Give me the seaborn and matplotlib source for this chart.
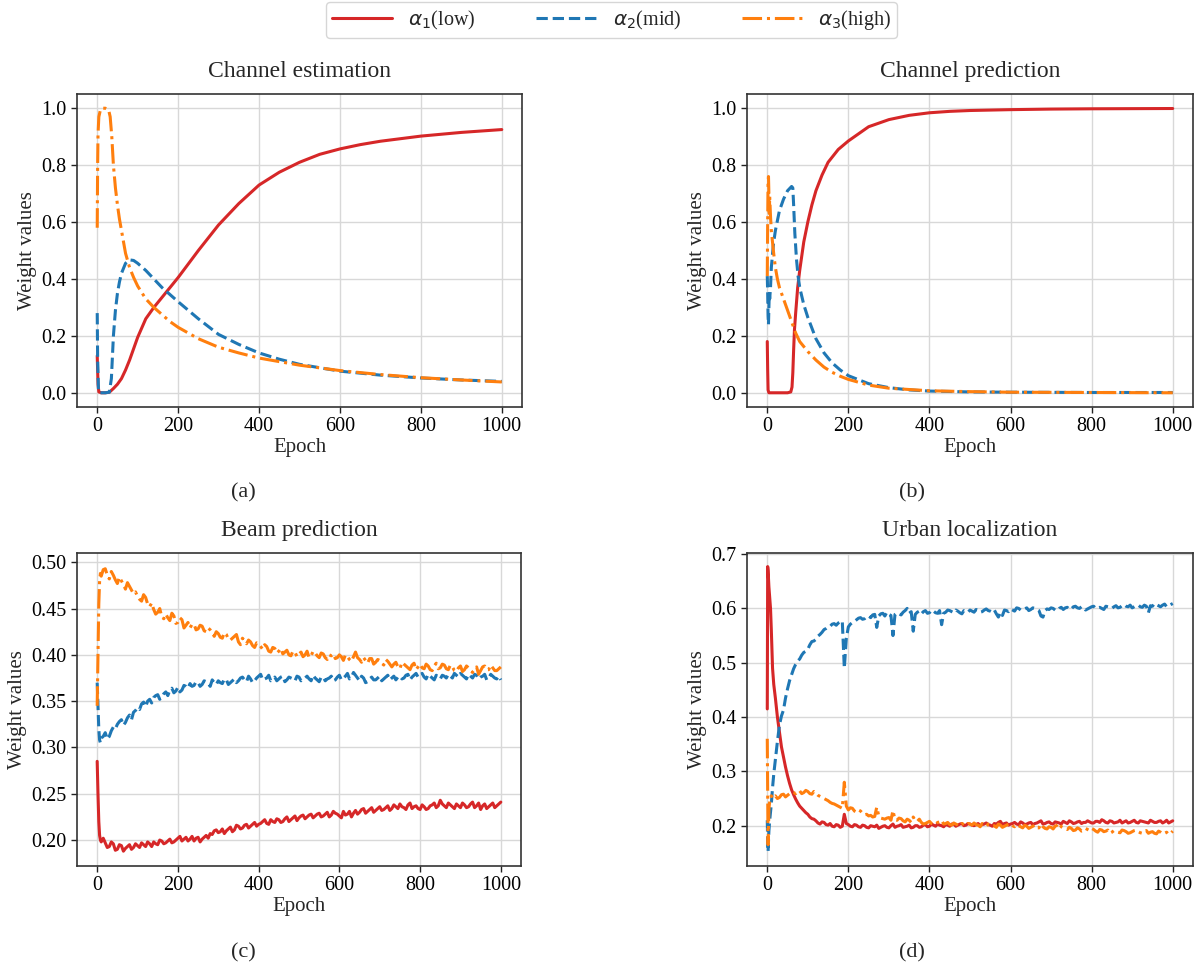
import numpy as np
import pandas as pd
import matplotlib
matplotlib.use("Agg")
import matplotlib.pyplot as plt
import seaborn as sns

# ---------------- data ----------------
labels = [r"$\alpha_1$(low)", r"$\alpha_2$(mid)", r"$\alpha_3$(high)"]
colors = ["#d62728", "#1f77b4", "#ff7f0e"]
styles = ["-", "--", "-."]
titles = ["Channel estimation", "Channel prediction", "Beam prediction", "Urban localization"]
captions = ["(a)", "(b)", "(c)", "(d)"]

# (a) Channel estimation
a_low_x = [0, 2, 4, 10, 20, 30, 40, 50, 60, 70, 80, 90, 100, 120, 140, 160, 180, 200, 250, 300,
           350, 400, 450, 500, 550, 600, 650, 700, 800, 900, 1000]
a_low_y = [0.13, 0.03, 0.003, 0.0, 0.0, 0.002, 0.015, 0.03, 0.05, 0.08, 0.115, 0.155, 0.195, 0.26,
           0.30, 0.335, 0.37, 0.405, 0.50, 0.59, 0.665, 0.73, 0.775, 0.81, 0.838, 0.857, 0.872,
           0.884, 0.902, 0.915, 0.925]
a_mid_x = [0, 1, 3, 5, 10, 20, 30, 35, 40, 45, 50, 55, 60, 70, 80, 90, 100, 120, 140, 160, 180,
           200, 250, 300, 350, 400, 450, 500, 600, 700, 800, 900, 1000]
a_mid_y = [0.28, 0.12, 0.01, 0.0, 0.0, 0.0, 0.002, 0.05, 0.2, 0.29, 0.35, 0.39, 0.42, 0.455, 0.467,
           0.465, 0.455, 0.43, 0.40, 0.37, 0.345, 0.32, 0.26, 0.205, 0.17, 0.14, 0.118, 0.10,
           0.076, 0.062, 0.052, 0.045, 0.04]
a_high_x = [0, 1, 2, 4, 8, 12, 20, 28, 32, 36, 40, 45, 50, 55, 60, 70, 80, 90, 100, 120, 140, 160,
            180, 200, 250, 300, 350, 400, 500, 600, 700, 800, 900, 1000]
a_high_y = [0.58, 0.8, 0.91, 0.97, 0.995, 1.0, 1.0, 0.995, 0.97, 0.9, 0.8, 0.72, 0.66, 0.61, 0.57,
            0.49, 0.44, 0.405, 0.375, 0.33, 0.30, 0.275, 0.25, 0.23, 0.19, 0.16, 0.14, 0.122,
            0.097, 0.078, 0.064, 0.053, 0.045, 0.038]

# (b) Channel prediction
b_low_x = [0, 1, 2, 4, 10, 30, 50, 58, 61, 63, 65, 67, 70, 75, 80, 90, 100, 110, 120, 135, 150,
           175, 200, 250, 300, 350, 400, 450, 500, 600, 700, 800, 1000]
b_low_y = [0.18, 0.08, 0.01, 0.0, 0.0, 0.0, 0.0, 0.003, 0.02, 0.07, 0.15, 0.22, 0.28, 0.37, 0.43,
           0.53, 0.60, 0.66, 0.71, 0.765, 0.81, 0.855, 0.885, 0.935, 0.96, 0.975, 0.984, 0.989,
           0.992, 0.995, 0.997, 0.998, 0.999]
b_mid_x = [0, 1, 2, 3, 4, 5, 6, 8, 10, 15, 20, 30, 40, 50, 60, 63, 65, 68, 72, 76, 80, 90, 100,
           120, 140, 160, 180, 200, 250, 300, 350, 400, 500, 600, 800, 1000]
b_mid_y = [0.41, 0.35, 0.27, 0.24, 0.30, 0.35, 0.33, 0.37, 0.44, 0.52, 0.57, 0.64, 0.68, 0.71,
           0.725, 0.72, 0.66, 0.56, 0.47, 0.41, 0.37, 0.31, 0.265, 0.19, 0.14, 0.105, 0.08, 0.06,
           0.032, 0.018, 0.01, 0.006, 0.003, 0.002, 0.001, 0.001]
b_high_x = [0, 1, 2, 3, 4, 5, 6, 8, 10, 15, 20, 25, 30, 40, 50, 60, 70, 80, 100, 120, 140, 160,
            180, 200, 250, 300, 400, 500, 600, 800, 1000]
b_high_y = [0.41, 0.60, 0.74, 0.76, 0.70, 0.63, 0.69, 0.62, 0.57, 0.50, 0.44, 0.40, 0.37, 0.33,
            0.29, 0.25, 0.21, 0.18, 0.145, 0.115, 0.09, 0.072, 0.058, 0.047, 0.027, 0.016, 0.007,
            0.004, 0.002, 0.001, 0.0]

# (c) Beam prediction : main readings (epochs c_x) + in-between readings (epochs c_xh)
c_x = [0, 2, 4, 6, 8, 10, 15] + list(range(20, 1001, 10))
c_xh = list(range(25, 1000, 10))
c_low_y = [0.285, 0.25, 0.22, 0.205, 0.200, 0.198, 0.202,
           .197, .193, .196, .190, .194, .191, .195, .192, .194, .197,
           .193, .196, .198, .195, .199, .197, .201, .198, .202, .199,
           .203, .201, .199, .203, .201, .205, .207, .210, .208, .212,
           .210, .214, .211, .215, .213, .217, .215, .219, .217, .220,
           .218, .222, .219, .222, .220, .225, .222, .226, .224, .227,
           .225, .228, .226, .229, .226, .230, .227, .229, .226, .231,
           .228, .225, .232, .230, .234, .231, .235, .232, .236, .233,
           .237, .234, .236, .239, .235, .238, .234, .237, .233, .236,
           .234, .238, .235, .243, .237, .240, .236, .239, .235, .238,
           .236, .241, .237, .233, .239, .236, .240, .237, .241]
c_low_yh = [.192, .198, .189, .195, .188, .193, .190, .196, .192, .195,
            .198, .193, .196, .200, .196, .199, .197, .200, .204, .201,
            .199, .204, .202, .198, .203, .202, .206, .211, .209, .207,
            .212, .209, .216, .212, .216, .213, .217, .215, .218, .222,
            .217, .220, .223, .219, .223, .220, .224, .221, .226, .223,
            .227, .224, .228, .225, .228, .225, .231, .228, .224, .227,
            .231, .229, .228, .233, .229, .233, .230, .234, .232, .235,
            .232, .238, .234, .236, .233, .240, .236, .234, .238, .233,
            .237, .240, .237, .239, .235, .238, .234, .237, .240, .235,
            .239, .235, .240, .237, .234, .238, .235, .239]
c_mid_y = [0.370, 0.345, 0.320, 0.308, 0.305, 0.310, 0.312,
           .316, .312, .322, .325, .330, .327, .335, .338, .343, .347,
           .344, .352, .354, .357, .354, .360, .362, .359, .365, .362,
           .366, .369, .367, .370, .368, .371, .366, .370, .372, .369,
           .373, .370, .374, .372, .376, .371, .374, .372, .377, .373,
           .375, .372, .376, .374, .377, .373, .375, .372, .376, .374,
           .377, .372, .375, .371, .376, .374, .377, .373, .378, .375,
           .380, .376, .378, .372, .375, .371, .376, .373, .377, .374,
           .378, .375, .373, .377, .375, .379, .376, .380, .378, .376,
           .379, .375, .378, .374, .377, .379, .375, .378, .380, .376,
           .379, .375, .378, .376, .379, .375, .377, .374, .373]
c_mid_yh = [.309, .318, .320, .328, .324, .332, .330, .340, .341, .349,
            .350, .348, .356, .352, .358, .356, .364, .361, .360, .367,
            .364, .366, .371, .366, .372, .369, .373, .368, .370, .374,
            .368, .372, .370, .375, .373, .377, .370, .375, .379, .374,
            .378, .374, .372, .376, .371, .376, .374, .377, .372, .375,
            .374, .378, .373, .376, .372, .375, .372, .376, .373, .377,
            .374, .381, .375, .377, .370, .374, .373, .375, .372, .376,
            .373, .377, .376, .374, .378, .373, .378, .376, .380, .374,
            .377, .373, .376, .378, .375, .377, .380, .376, .378, .374,
            .377, .379, .374, .377, .373, .379, .375, .377]
c_high_y = [0.345, 0.400, 0.455, 0.480, 0.488, 0.485, 0.492,
            .493, .482, .486, .477, .480, .471, .474, .466, .463, .458,
            .462, .452, .449, .446, .441, .444, .437, .442, .435, .438,
            .432, .429, .433, .428, .431, .425, .427, .420, .423, .418,
            .422, .416, .420, .414, .418, .412, .414, .408, .412, .406,
            .409, .403, .407, .404, .401, .405, .399, .403, .401, .398,
            .404, .399, .402, .397, .401, .395, .399, .396, .400, .394,
            .398, .393, .403, .395, .397, .391, .396, .392, .394, .389,
            .393, .387, .392, .385, .390, .386, .389, .384, .390, .385,
            .388, .383, .391, .386, .389, .384, .387, .382, .388, .384,
            .386, .381, .387, .383, .388, .384, .386, .383, .387]
c_high_yh = [.486, .490, .481, .484, .476, .478, .470, .468, .460, .465,
             .455, .456, .444, .450, .439, .440, .445, .434, .440, .429,
             .435, .433, .427, .432, .426, .429, .424, .425, .419, .424,
             .417, .418, .422, .411, .415, .416, .410, .413, .409, .411,
             .404, .408, .402, .407, .403, .400, .404, .398, .403, .400,
             .397, .404, .399, .402, .397, .400, .401, .397, .398, .400,
             .395, .398, .397, .392, .394, .396, .390, .395, .391, .395,
             .390, .390, .387, .392, .388, .384, .391, .387, .386, .390,
             .384, .388, .385, .390, .385, .389, .383, .386, .382, .388,
             .383, .385, .379, .387, .384, .389, .383, .385]

# (d) Urban localization : main readings (epochs d_x) + in-between readings (epochs d_xh)
d_x = [0, 1, 2, 3, 4, 6, 8, 10, 13, 16] + list(range(20, 1001, 10))
d_xh = list(range(25, 1000, 10))
d_low_y = [0.415, 0.677, 0.670, 0.655, 0.640, 0.620, 0.600, 0.560, 0.490, 0.460,
           .435, .372, .326, .292, .266, .249, .236, .228, .221, .213,
           .209, .203, .206, .201, .199, .202, .197, .221, .202, .198,
           .201, .197, .200, .196, .199, .201, .197, .200, .196, .203,
           .199, .202, .198, .201, .197, .200, .198, .202, .199, .201,
           .203, .200, .202, .199, .203, .201, .204, .201, .203, .200,
           .204, .202, .205, .201, .204, .206, .202, .205, .203, .206,
           .202, .205, .203, .206, .204, .207, .203, .206, .204, .207,
           .205, .208, .204, .207, .205, .208, .206, .209, .205, .208,
           .206, .209, .205, .208, .206, .210, .207, .205, .208, .206,
           .209, .207, .205, .208, .206, .209, .207, .205, .209]
d_low_yh = [.400, .345, .308, .278, .257, .242, .232, .224, .216, .212,
            .205, .207, .202, .204, .198, .201, .199, .204, .199, .202,
            .198, .201, .197, .200, .198, .195, .199, .197, .200, .197,
            .200, .197, .199, .196, .200, .197, .201, .198, .203, .199,
            .201, .198, .201, .203, .199, .203, .200, .204, .201, .202,
            .200, .203, .202, .199, .203, .208, .204, .201, .204, .203,
            .207, .202, .205, .202, .205, .209, .204, .207, .203, .206,
            .203, .206, .209, .204, .207, .204, .206, .207, .205, .208,
            .211, .206, .209, .205, .207, .205, .209, .206, .210, .205,
            .208, .206, .210, .206, .208, .205, .210, .207]
d_mid_y = [0.210, 0.170, 0.152, 0.170, 0.190, 0.210, 0.225, 0.240, 0.270, 0.295,
           .322, .385, .413, .452, .478, .497, .507, .519, .525, .539,
           .543, .552, .561, .566, .571, .569, .575, .490, .566, .574,
           .579, .583, .581, .586, .588, .565, .590, .586, .589, .550,
           .592, .588, .596, .591, .558, .593, .590, .596, .592, .595,
           .591, .570, .593, .596, .592, .595, .590, .594, .597, .593,
           .596, .594, .599, .595, .597, .584, .587, .596, .599, .595,
           .600, .597, .601, .598, .600, .596, .584, .599, .601, .597,
           .600, .598, .602, .599, .604, .600, .602, .599, .603, .600,
           .602, .598, .603, .600, .605, .602, .607, .603, .601, .605,
           .603, .606, .592, .604, .607, .603, .608, .605, .609]
d_mid_yh = [.355, .402, .435, .467, .489, .503, .514, .521, .533, .540,
            .549, .556, .563, .567, .572, .573, .577, .545, .571, .576,
            .582, .580, .585, .583, .589, .586, .591, .593, .587, .589,
            .590, .593, .600, .594, .589, .595, .594, .591, .597, .592,
            .596, .591, .597, .594, .597, .592, .596, .593, .595, .598,
            .593, .597, .596, .593, .590, .593, .597, .594, .597, .601,
            .597, .599, .596, .601, .598, .586, .596, .598, .600, .596,
            .602, .601, .598, .603, .601, .603, .597, .601, .604, .601,
            .600, .604, .602, .603, .601, .605, .604, .606, .603, .606,
            .602, .604, .605, .609, .605, .606, .603, .607]
d_high_y = [0.360, 0.250, 0.165, 0.200, 0.230, 0.245, 0.252, 0.255, 0.250, 0.253,
            .255, .252, .258, .256, .262, .259, .264, .261, .263, .258,
            .260, .254, .250, .246, .241, .238, .234, .280, .229, .232,
            .225, .227, .220, .218, .216, .234, .214, .212, .215, .228,
            .210, .213, .207, .210, .216, .208, .206, .204, .208, .203,
            .206, .210, .204, .202, .205, .201, .204, .200, .203, .205,
            .201, .204, .199, .202, .200, .203, .197, .201, .204, .198,
            .200, .196, .199, .197, .201, .196, .198, .194, .197, .199,
            .205, .196, .193, .195, .192, .194, .191, .193, .195, .190,
            .193, .189, .192, .188, .190, .187, .191, .186, .189, .192,
            .187, .190, .186, .189, .185, .188, .186, .184, .190]
d_high_yh = [.250, .257, .253, .259, .261, .264, .259, .265, .259, .263,
             .256, .252, .248, .243, .240, .236, .232, .236, .233, .227,
             .229, .223, .221, .219, .217, .218, .213, .214, .210, .211,
             .214, .209, .212, .206, .209, .212, .203, .206, .204, .202,
             .207, .203, .206, .201, .203, .199, .202, .204, .201, .202,
             .198, .201, .203, .199, .197, .201, .199, .203, .200, .202,
             .198, .201, .195, .199, .196, .203, .195, .198, .194, .201,
             .198, .195, .197, .191, .196, .190, .195, .191, .193, .188,
             .192, .190, .186, .191, .188, .192, .189, .187, .191, .189,
             .186, .191, .188, .186, .190, .185, .188, .186]

panels = [
    [[(a_low_x, a_low_y)], [(a_mid_x, a_mid_y)], [(a_high_x, a_high_y)]],
    [[(b_low_x, b_low_y)], [(b_mid_x, b_mid_y)], [(b_high_x, b_high_y)]],
    [[(c_x, c_low_y), (c_xh, c_low_yh)], [(c_x, c_mid_y), (c_xh, c_mid_yh)],
     [(c_x, c_high_y), (c_xh, c_high_yh)]],
    [[(d_x, d_low_y), (d_xh, d_low_yh)], [(d_x, d_mid_y), (d_xh, d_mid_yh)],
     [(d_x, d_high_y), (d_xh, d_high_yh)]],
]

# ---------------- style ----------------
sns.set_theme(style="ticks")
plt.rcParams["font.family"] = ["Liberation Serif", "DejaVu Sans"]
plt.rcParams["mathtext.fontset"] = "dejavusans"
plt.rcParams["axes.edgecolor"] = "#333333"
plt.rcParams["axes.linewidth"] = 1.2
plt.rcParams["xtick.color"] = "#222222"
plt.rcParams["ytick.color"] = "#222222"
plt.rcParams["xtick.labelcolor"] = "black"
plt.rcParams["ytick.labelcolor"] = "black"

W, H = 1204, 971
fig = plt.figure(figsize=(W / 100, H / 100), dpi=100)

boxes = [(77, 522, 94, 407), (747, 1193, 94, 407), (77, 521, 553, 866), (747, 1193, 553, 866)]
ylims = [(-0.05, 1.05), (-0.05, 1.05), (0.172, 0.510), (0.1258, 0.702)]
yticks = [np.arange(0, 1.01, 0.2), np.arange(0, 1.01, 0.2),
          np.arange(0.20, 0.501, 0.05), np.arange(0.2, 0.71, 0.1)]
yfmt = ["%.1f", "%.1f", "%.2f", "%.1f"]
cap_pos = [(243, 493), (912, 493), (243, 953), (912, 953)]

axes = []
for i, (l, r, t, b) in enumerate(boxes):
    ax = fig.add_axes([l / W, 1 - b / H, (r - l) / W, (b - t) / H])
    axes.append(ax)
    for j, parts in enumerate(panels[i]):
        frames = []
        for xs, ys in parts:
            assert len(xs) == len(ys), (i, j, len(xs), len(ys))
            frames.append(pd.DataFrame({"Epoch": xs, "w": ys}))
        df = pd.concat(frames).sort_values("Epoch")
        sns.lineplot(data=df, x="Epoch", y="w", ax=ax, color=colors[j], linestyle=styles[j],
                     linewidth=2.2, label=labels[j], estimator=None, sort=True)
    if ax.get_legend() is not None:
        ax.get_legend().remove()
    ax.set_xlim(-50, 1050)
    ax.set_ylim(*ylims[i])
    ax.set_xticks([0, 200, 400, 600, 800, 1000])
    ax.set_yticks(yticks[i])
    ax.yaxis.set_major_formatter(matplotlib.ticker.FormatStrFormatter(yfmt[i]))
    ax.grid(True, color="#d8d8d8", linewidth=1.0)
    ax.set_axisbelow(True)
    ax.tick_params(labelsize=14.5, length=4, width=1)
    ax.set_xlabel("Epoch", fontsize=15, labelpad=1)
    ax.set_ylabel("Weight values", fontsize=15, labelpad=3)
    ax.set_title(titles[i], fontsize=17, pad=12)
    fig.text(cap_pos[i][0] / W, 1 - cap_pos[i][1] / H, captions[i], fontsize=16,
             ha="center", va="center")

handles, labs = axes[0].get_legend_handles_labels()
fig.legend(handles, labs, loc="upper center", bbox_to_anchor=(0.508, 1.0), ncol=3,
           fontsize=14.5, handlelength=3.0, handletextpad=0.8, columnspacing=3.0,
           frameon=True, fancybox=True, edgecolor="#cccccc", borderpad=0.3,
           borderaxespad=0.1)

fig.savefig("out.png", dpi=100)
